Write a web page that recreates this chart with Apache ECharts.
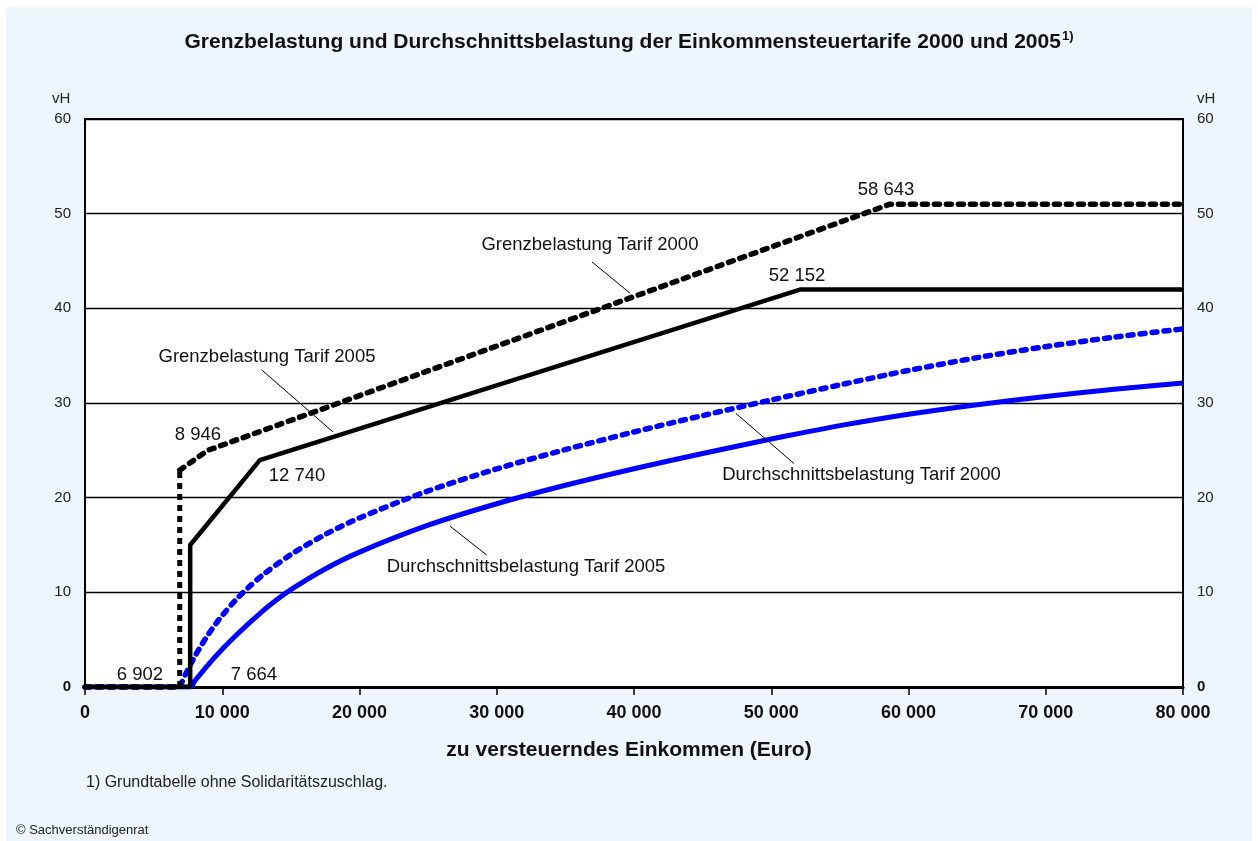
<!DOCTYPE html>
<html>
<head>
<meta charset="utf-8">
<script src="https://cdn.jsdelivr.net/npm/echarts@6/dist/echarts.min.js"></script>
<style>
  html, body { margin: 0; padding: 0; background: #fff; }
  #chart { width: 1258px; height: 841px; }
</style>
</head>
<body>
<div id="chart"></div>
<script>
// Grenzbelastung (marginal rate) in vH, [Einkommen, Satz]
var grenz2000 = [[0, 0], [6902, 0], [6902, 22.9], [8946, 25.0], [58643, 51.0], [80000, 51.0]];
var grenz2005 = [[0, 0], [7664, 0], [7664, 15.0], [12740, 23.97], [52152, 42.0], [80000, 42.0]];

// Durchschnittsbelastung (average rate) in vH
var durch2000 = [[0, 0], [6902, 0], [7000, 0.32], [7500, 1.85], [8000, 3.22], [8500, 4.46],
    [8946, 5.47], [9500, 6.62], [10000, 7.56], [11000, 9.22], [12000, 10.64], [13000, 11.89],
    [15000, 13.99], [17500, 16.11], [20000, 17.86], [25000, 20.71], [30000, 23.04],
    [35000, 25.08], [40000, 26.94], [45000, 28.67], [50000, 30.32], [55000, 31.91],
    [58643, 33.04], [60000, 33.44], [65000, 34.79], [70000, 35.95], [75000, 36.96], [80000, 37.83]];
var durch2005 = [[0, 0], [7664, 0], [8000, 0.64], [9000, 2.40], [10000, 3.99], [11000, 5.44],
    [12000, 6.80], [12740, 7.76], [13500, 8.69], [15000, 10.28], [17500, 12.47], [20000, 14.25],
    [25000, 17.09], [30000, 19.36], [35000, 21.31], [40000, 23.06], [45000, 24.67],
    [50000, 26.19], [52152, 26.82], [55000, 27.61], [60000, 28.81], [65000, 29.82],
    [70000, 30.69], [75000, 31.45], [80000, 32.11]];

// Beschriftungen im Diagramm (Datenkoordinaten)
var annoText = ['Grenzbelastung Tarif 2000', 'Grenzbelastung Tarif 2005',
    'Durchschnittsbelastung Tarif 2000', 'Durchschnittsbelastung Tarif 2005',
    '8 946', '12 740', '52 152', '58 643', '6 902', '7 664'];
var annoX = [36790, 13260, 56580, 32130, 8230, 15450, 51880, 58360, 4000, 12310];
var annoY = [46.7, 34.86, 22.39, 12.68, 26.6, 22.29, 43.4, 52.5, 1.27, 1.27];

// Hinweislinien
var leaderFrom = [[36940, 44.9], [12870, 33.5], [47430, 28.9], [26590, 17.0]];
var leaderTo = [[39710, 41.6], [18070, 26.94], [51660, 23.6], [29270, 13.94]];

var xTicks = [0, 80000, 10000];
var yTicks = [0, 60, 10];

var FONT = '"Liberation Sans", Arial, sans-serif';

function tausend(v) {
    return String(v).replace(/\B(?=(\d{3})+(?!\d))/g, ' ');
}

var chart = echarts.init(document.getElementById('chart'));

var annoData = annoText.map(function (t, i) { return [annoX[i], annoY[i], t]; });
var leaderData = leaderFrom.map(function (f, i) {
    return [{ coord: f }, { coord: leaderTo[i] }];
});

var yLabel = {
    fontFamily: FONT, fontSize: 15, color: '#222', margin: 14,
    formatter: function (v) { return v === 0 ? '{b|0}' : String(v); },
    rich: { b: { fontFamily: FONT, fontSize: 15, fontWeight: 'bold', color: '#111' } }
};

var dotted = { color: '#000', width: 5.5, type: [5, 7], cap: 'round' };

var option = {
    backgroundColor: '#ffffff',
    animation: false,
    title: {
        text: '{t|Grenzbelastung und Durchschnittsbelastung der Einkommensteuertarife 2000 und 2005}{s|1)}',
        left: 'center',
        top: 25,
        textStyle: {
            rich: {
                t: { fontFamily: FONT, fontSize: 21, fontWeight: 'bold', color: '#111' },
                s: { fontFamily: FONT, fontSize: 13, color: '#111', padding: [0, 0, 11, 1] }
            }
        }
    },
    graphic: [
        { type: 'rect', z: -10, shape: { x: 6, y: 7, width: 1246, height: 834 }, style: { fill: '#edf6fa' } },
        { type: 'text', left: 52, top: 91, style: { text: 'vH', font: '15px ' + FONT, fill: '#222' } },
        { type: 'text', left: 1197, top: 91, style: { text: 'vH', font: '15px ' + FONT, fill: '#222' } },
        { type: 'text', left: 'center', top: 740, style: { text: 'zu versteuerndes Einkommen (Euro)', font: 'bold 21px ' + FONT, fill: '#111' } },
        { type: 'text', left: 86, top: 775, style: { text: '1) Grundtabelle ohne Solidaritätszuschlag.', font: '16px ' + FONT, fill: '#222' } },
        { type: 'text', left: 16, top: 824, style: { text: '© Sachverständigenrat', font: '13px ' + FONT, fill: '#222' } }
    ],
    grid: {
        left: 85, right: 75, top: 119, bottom: 154,
        show: true, backgroundColor: '#ffffff', borderColor: '#000', borderWidth: 2
    },
    xAxis: {
        type: 'value', min: xTicks[0], max: xTicks[1], interval: xTicks[2],
        axisLine: { show: true, onZero: false, lineStyle: { color: '#000', width: 3 } },
        axisTick: { show: true, length: 8, lineStyle: { color: '#000', width: 1.5 } },
        axisLabel: {
            fontFamily: FONT, fontSize: 18, fontWeight: 'bold', color: '#111', margin: 17,
            formatter: tausend
        },
        splitLine: { show: false }
    },
    yAxis: [{
        type: 'value', min: yTicks[0], max: yTicks[1], interval: yTicks[2],
        axisLine: { show: true, lineStyle: { color: '#000', width: 2 } },
        axisTick: { show: false },
        axisLabel: yLabel,
        splitLine: { show: true, lineStyle: { color: '#000', width: 1.3 } }
    }, {
        type: 'value', position: 'right', min: yTicks[0], max: yTicks[1], interval: yTicks[2],
        axisLine: { show: true, lineStyle: { color: '#000', width: 2 } },
        axisTick: { show: false },
        axisLabel: yLabel,
        splitLine: { show: false }
    }],
    series: [{
        name: 'Durchschnittsbelastung Tarif 2005', type: 'line', data: durch2005,
        showSymbol: false, smooth: 0.3, z: 3,
        lineStyle: { color: '#0000ff', width: 5 }
    }, {
        name: 'Durchschnittsbelastung Tarif 2000', type: 'line', data: durch2000,
        showSymbol: false, smooth: 0.3, z: 3,
        lineStyle: { color: '#0000ff', width: 5.5, type: [5, 7], cap: 'round' }
    }, {
        name: 'Grenzbelastung Tarif 2005', type: 'line', data: grenz2005,
        showSymbol: false, z: 4,
        lineStyle: { color: '#000', width: 4.5 }
    }, {
        // Sprung beim Grundfreibetrag 2000: eckige Punkte
        name: 'Grenzbelastung Tarif 2000 Sprung', type: 'line', data: grenz2000.slice(1, 3),
        showSymbol: false, z: 4,
        lineStyle: { color: '#000', width: 5, type: [6, 5], cap: 'butt' }
    }, {
        name: 'Grenzbelastung Tarif 2000', type: 'line', data: grenz2000.slice(2),
        showSymbol: false, z: 4,
        lineStyle: dotted,
        markLine: {
            silent: true, symbol: 'none', label: { show: false },
            lineStyle: { color: '#000', width: 1, type: 'solid', opacity: 1 },
            data: leaderData
        }
    }, {
        name: 'Grenzbelastung Tarif 2000 Basis', type: 'line', data: grenz2000.slice(0, 2),
        showSymbol: false, z: 4,
        lineStyle: dotted
    }, {
        name: 'Beschriftung', type: 'scatter', data: annoData, symbolSize: 0, z: 6, silent: true,
        itemStyle: { color: '#000', opacity: 0 },
        label: {
            show: true, position: 'inside', fontFamily: FONT, fontSize: 18.5, color: '#111',
            textBorderWidth: 0, opacity: 1,
            formatter: function (p) { return p.data[2]; }
        }
    }]
};

chart.setOption(option);
</script>
</body>
</html>
